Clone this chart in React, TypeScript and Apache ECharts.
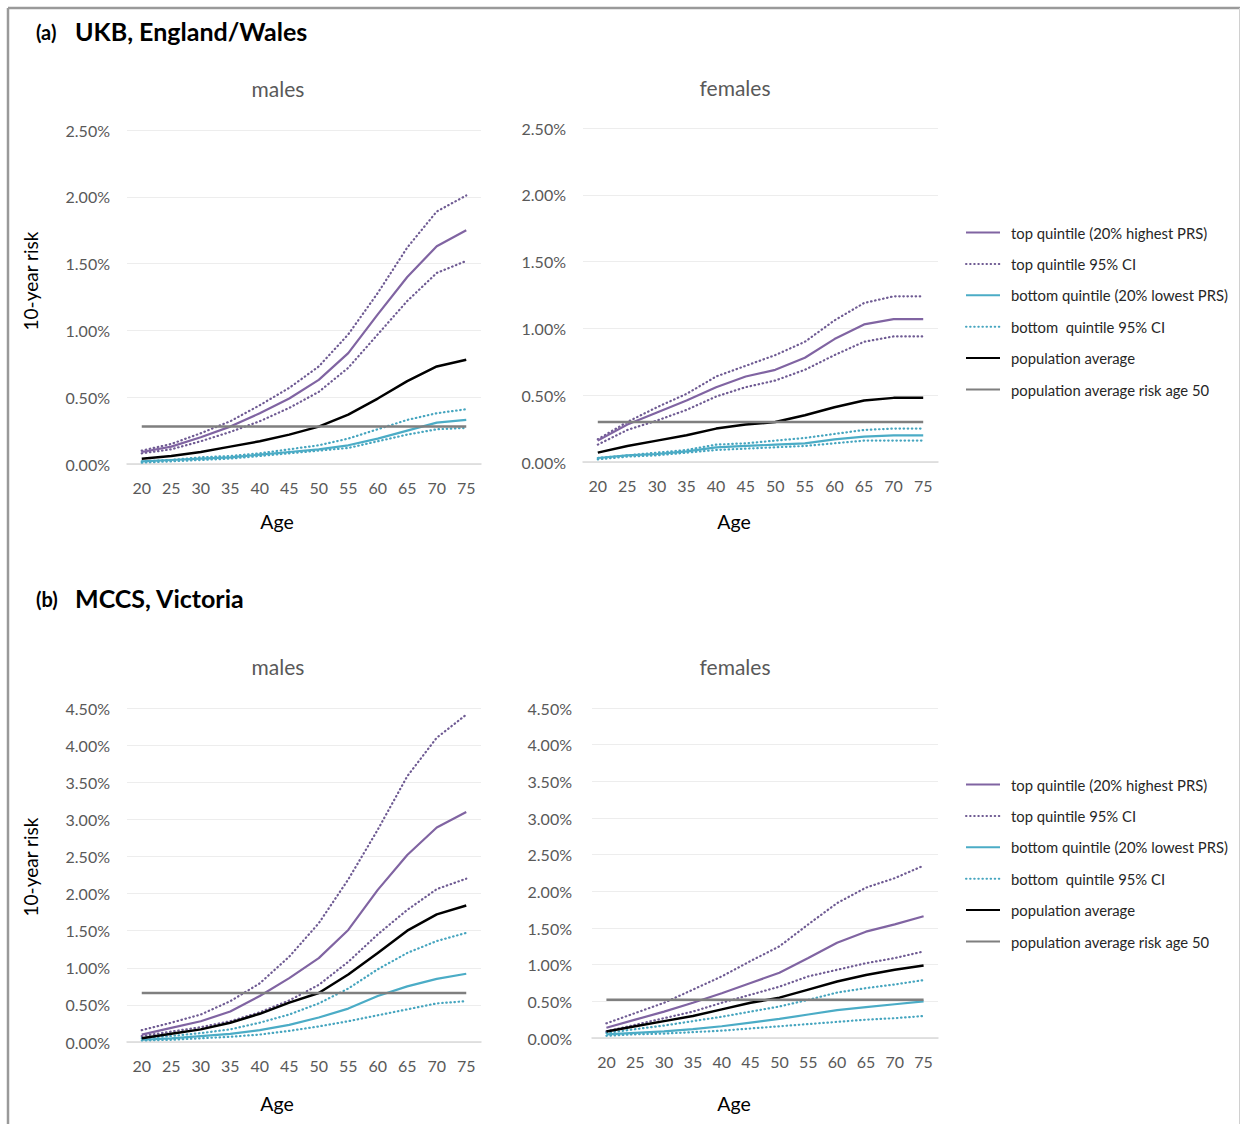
import React, { useEffect, useRef } from "react";
import * as echarts from "echarts";

const AGES = ["20", "25", "30", "35", "40", "45", "50", "55", "60", "65", "70", "75"];

const LEGEND_NAMES = [
  "top quintile (20% highest PRS)",
  "top quintile 95% CI",
  "bottom quintile (20% lowest PRS)",
  "bottom  quintile 95% CI",
  "population average",
  "population average risk age 50",
];

// (a) UKB males
const A_M_TOP = [0.09, 0.13, 0.2, 0.28, 0.38, 0.49, 0.63, 0.83, 1.12, 1.4, 1.63, 1.75];
const A_M_TOP_HI = [0.1, 0.15, 0.23, 0.32, 0.44, 0.57, 0.73, 0.97, 1.28, 1.62, 1.89, 2.01];
const A_M_TOP_LO = [0.08, 0.11, 0.17, 0.24, 0.32, 0.42, 0.54, 0.72, 0.97, 1.22, 1.43, 1.52];
const A_M_BOT = [0.02, 0.03, 0.04, 0.05, 0.07, 0.09, 0.11, 0.14, 0.19, 0.25, 0.31, 0.33];
const A_M_BOT_HI = [0.02, 0.03, 0.05, 0.06, 0.08, 0.11, 0.14, 0.19, 0.26, 0.33, 0.38, 0.41];
const A_M_BOT_LO = [0.01, 0.02, 0.03, 0.04, 0.06, 0.08, 0.1, 0.12, 0.17, 0.22, 0.26, 0.27];
const A_M_POP = [0.04, 0.06, 0.09, 0.13, 0.17, 0.22, 0.28, 0.37, 0.49, 0.62, 0.73, 0.78];
const A_M_POP50 = 0.28;

// (a) UKB females
const A_F_TOP = [0.16, 0.28, 0.37, 0.46, 0.56, 0.64, 0.69, 0.78, 0.92, 1.03, 1.07, 1.07];
const A_F_TOP_HI = [0.17, 0.3, 0.41, 0.51, 0.64, 0.72, 0.8, 0.9, 1.06, 1.19, 1.24, 1.24];
const A_F_TOP_LO = [0.13, 0.24, 0.31, 0.39, 0.49, 0.56, 0.61, 0.69, 0.8, 0.9, 0.94, 0.94];
const A_F_BOT = [0.03, 0.05, 0.06, 0.08, 0.11, 0.12, 0.13, 0.14, 0.17, 0.19, 0.2, 0.2];
const A_F_BOT_HI = [0.03, 0.05, 0.07, 0.09, 0.13, 0.14, 0.16, 0.18, 0.21, 0.24, 0.25, 0.25];
const A_F_BOT_LO = [0.02, 0.04, 0.05, 0.07, 0.09, 0.1, 0.11, 0.12, 0.14, 0.16, 0.16, 0.16];
const A_F_POP = [0.07, 0.12, 0.16, 0.2, 0.25, 0.28, 0.3, 0.35, 0.41, 0.46, 0.48, 0.48];
const A_F_POP50 = 0.3;

// (b) MCCS males
const B_M_TOP = [0.1, 0.19, 0.28, 0.41, 0.62, 0.86, 1.13, 1.51, 2.05, 2.52, 2.89, 3.1];
const B_M_TOP_HI = [0.16, 0.26, 0.37, 0.55, 0.79, 1.15, 1.6, 2.19, 2.86, 3.58, 4.1, 4.41];
const B_M_TOP_LO = [0.08, 0.14, 0.2, 0.28, 0.4, 0.56, 0.77, 1.08, 1.45, 1.78, 2.06, 2.2];
const B_M_BOT = [0.03, 0.05, 0.08, 0.11, 0.16, 0.23, 0.33, 0.45, 0.62, 0.75, 0.85, 0.92];
const B_M_BOT_HI = [0.05, 0.08, 0.12, 0.17, 0.26, 0.37, 0.52, 0.72, 0.98, 1.2, 1.36, 1.47];
const B_M_BOT_LO = [0.02, 0.03, 0.05, 0.07, 0.1, 0.15, 0.21, 0.28, 0.36, 0.44, 0.52, 0.55];
const B_M_POP = [0.05, 0.11, 0.17, 0.26, 0.38, 0.53, 0.66, 0.91, 1.2, 1.5, 1.72, 1.84];
const B_M_POP50 = 0.66;

// (b) MCCS females
const B_F_TOP = [0.14, 0.25, 0.36, 0.48, 0.61, 0.75, 0.89, 1.09, 1.3, 1.45, 1.55, 1.66];
const B_F_TOP_HI = [0.2, 0.34, 0.48, 0.66, 0.84, 1.05, 1.25, 1.55, 1.84, 2.05, 2.18, 2.35];
const B_F_TOP_LO = [0.09, 0.18, 0.27, 0.36, 0.48, 0.59, 0.7, 0.84, 0.93, 1.02, 1.09, 1.18];
const B_F_BOT = [0.05, 0.07, 0.09, 0.12, 0.16, 0.21, 0.26, 0.32, 0.38, 0.42, 0.46, 0.5];
const B_F_BOT_HI = [0.07, 0.12, 0.17, 0.23, 0.29, 0.36, 0.43, 0.52, 0.62, 0.68, 0.73, 0.79];
const B_F_BOT_LO = [0.03, 0.05, 0.06, 0.08, 0.1, 0.13, 0.16, 0.19, 0.22, 0.25, 0.27, 0.3];
const B_F_POP = [0.09, 0.16, 0.23, 0.3, 0.39, 0.48, 0.55, 0.66, 0.77, 0.86, 0.93, 0.99];
const B_F_POP50 = 0.52;

const FONT = "Lato";
const PURPLE = "#8064A2";
const PURPLE_DOT = "#6F5B93";
const TEAL = "#4BACC6";
const TEAL_DOT = "#46A5BF";
const GREY_TXT = "#595959";

const DOT: any = [0.5, 3.6];

type Panel = {
  top: number[]; hi: number[]; lo: number[];
  bot: number[]; bhi: number[]; blo: number[];
  pop: number[]; pop50: number;
};

const PANELS: Panel[] = [
  { top: A_M_TOP, hi: A_M_TOP_HI, lo: A_M_TOP_LO, bot: A_M_BOT, bhi: A_M_BOT_HI, blo: A_M_BOT_LO, pop: A_M_POP, pop50: A_M_POP50 },
  { top: A_F_TOP, hi: A_F_TOP_HI, lo: A_F_TOP_LO, bot: A_F_BOT, bhi: A_F_BOT_HI, blo: A_F_BOT_LO, pop: A_F_POP, pop50: A_F_POP50 },
  { top: B_M_TOP, hi: B_M_TOP_HI, lo: B_M_TOP_LO, bot: B_M_BOT, bhi: B_M_BOT_HI, blo: B_M_BOT_LO, pop: B_M_POP, pop50: B_M_POP50 },
  { top: B_F_TOP, hi: B_F_TOP_HI, lo: B_F_TOP_LO, bot: B_F_BOT, bhi: B_F_BOT_HI, blo: B_F_BOT_LO, pop: B_F_POP, pop50: B_F_POP50 },
];

const GRIDS = [
  { left: 127, top: 130, width: 354, height: 334 },
  { left: 583, top: 128, width: 355, height: 334 },
  { left: 127, top: 708, width: 354, height: 334 },
  { left: 592, top: 708, width: 346, height: 330 },
];
const YMAX = [2.5, 2.5, 4.5, 4.5];

function line(name: string, data: number[], idx: number, color: string, width: number, dotted: boolean) {
  return {
    type: "line",
    name,
    data,
    xAxisIndex: idx,
    yAxisIndex: idx,
    symbol: "none",
    silent: true,
    lineStyle: { color, width, type: dotted ? DOT : "solid", cap: dotted ? "round" : "butt" },
    itemStyle: { color },
  };
}

export default function App() {
  const ref = useRef<HTMLDivElement>(null);
  useEffect(() => {
    document.body.style.margin = "0";
    if (!ref.current) return;
    const chart = echarts.init(ref.current, undefined, { renderer: "svg" });

    const series: any[] = [];
    PANELS.forEach((p, i) => {
      series.push(line(LEGEND_NAMES[1], p.hi, i, PURPLE_DOT, 2.2, true));
      series.push(line(LEGEND_NAMES[1], p.lo, i, PURPLE_DOT, 2.2, true));
      series.push(line(LEGEND_NAMES[3], p.bhi, i, TEAL_DOT, 2.2, true));
      series.push(line(LEGEND_NAMES[3], p.blo, i, TEAL_DOT, 2.2, true));
      series.push(line(LEGEND_NAMES[0], p.top, i, PURPLE, 2.2, false));
      series.push(line(LEGEND_NAMES[2], p.bot, i, TEAL, 2.2, false));
      series.push(line(LEGEND_NAMES[4], p.pop, i, "#000000", 2.5, false));
      series.push(line(LEGEND_NAMES[5], AGES.map(() => p.pop50), i, "#7F7F7F", 2.5, false));
    });

    const xAxis = GRIDS.map((_, i) => ({
      type: "category",
      gridIndex: i,
      data: AGES,
      boundaryGap: true,
      axisTick: { show: false },
      axisLine: { lineStyle: { color: "#D9D9D9", width: 1.5 } },
      axisLabel: { color: GREY_TXT, fontSize: 16, fontFamily: FONT, margin: 15, interval: 0 },
    }));

    const yAxis = GRIDS.map((_, i) => ({
      type: "value",
      gridIndex: i,
      min: 0,
      max: YMAX[i],
      interval: 0.5,
      axisLine: { show: false },
      axisTick: { show: false },
      splitLine: { lineStyle: { color: "#EDEDED", width: 1 } },
      axisLabel: {
        color: GREY_TXT,
        fontSize: 16,
        fontFamily: FONT,
        margin: i === 3 ? 20 : 17,
        formatter: (v: number) => v.toFixed(2) + "%",
      },
    }));

    const legendBase = {
      data: LEGEND_NAMES,
      orient: "vertical",
      left: 960,
      itemWidth: 34,
      itemHeight: 14,
      itemGap: 16.4,
      selectedMode: false,
      itemStyle: { opacity: 0 },
      textStyle: { color: "#262626", fontSize: 14.8, fontFamily: FONT, padding: [0, 0, 0, 6] },
    };

    const txt = (x: number, y: number, text: string, size: number, color: string, rotation = 0) => ({
      type: "text",
      x,
      y,
      rotation,
      style: { text, fill: color, fontSize: size, fontFamily: FONT, align: "center", verticalAlign: "middle" },
    });
    const txtL = (x: number, y: number, text: string, size: number) => ({
      type: "text",
      x,
      y,
      style: { text, fill: "#000", fontSize: size, fontFamily: FONT, fontWeight: "bold", align: "left", verticalAlign: "middle" },
    });

    chart.setOption({
      animation: false,
      backgroundColor: "#fff",
      grid: GRIDS.map((g) => ({ ...g, containLabel: false })),
      xAxis,
      yAxis,
      series,
      legend: [
        { ...legendBase, top: 220 },
        { ...legendBase, top: 772 },
      ],
      graphic: [
        { type: "line", shape: { x1: 8, y1: 8, x2: 8, y2: 1124 }, style: { stroke: "#9A9A9A", lineWidth: 2.5 } },
        { type: "line", shape: { x1: 8, y1: 8, x2: 1240, y2: 8 }, style: { stroke: "#9A9A9A", lineWidth: 2.5 } },
        { type: "line", shape: { x1: 1239.5, y1: 8, x2: 1239.5, y2: 1124 }, style: { stroke: "#D0D0D0", lineWidth: 1 } },
        txtL(36, 32, "(a)", 20),
        txtL(75, 31, "UKB, England/Wales", 25),
        txtL(36, 599, "(b)", 20),
        txtL(75, 598, "MCCS, Victoria", 25),
        txt(278, 88, "males", 21, GREY_TXT),
        txt(735, 87, "females", 21, GREY_TXT),
        txt(278, 666, "males", 21, GREY_TXT),
        txt(735, 666, "females", 21, GREY_TXT),
        txt(277, 521, "Age", 19.5, "#000"),
        txt(734, 521, "Age", 19.5, "#000"),
        txt(277, 1103, "Age", 19.5, "#000"),
        txt(734, 1103, "Age", 19.5, "#000"),
        txt(30, 281, "10-year risk", 19, "#000", Math.PI / 2),
        txt(30, 867, "10-year risk", 19, "#000", Math.PI / 2),
      ],
    });
    return () => chart.dispose();
  }, []);
  return <div ref={ref} style={{ width: 1241, height: 1124 }} />;
}
